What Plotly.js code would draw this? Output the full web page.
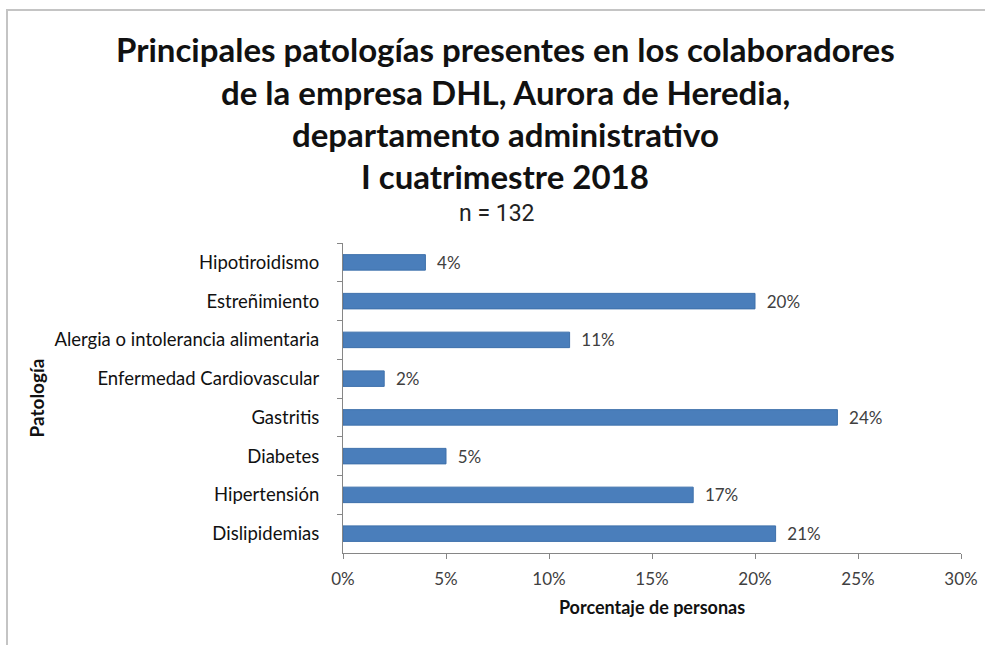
<!DOCTYPE html>
<html>
<head>
<meta charset="utf-8">
<script src="https://cdn.plot.ly/plotly-3.0.1.min.js"></script>
<style>
  html, body { margin: 0; padding: 0; background: #fff; }
  #wrap { position: relative; width: 985px; height: 645px; }
  #chart { position: absolute; left: 0; top: 0; width: 985px; height: 645px; }
  #frame { position: absolute; left: 6px; top: 9px; width: 979px; height: 636px;
           border-top: 2px solid #c4c4c4; border-left: 2px solid #c4c4c4;
           pointer-events: none; box-sizing: border-box; }
</style>
</head>
<body>
<div id="wrap">
  <div id="chart"></div>
  <div id="frame"></div>
</div>
<script>
const categories = [
  "Hipotiroidismo",
  "Estreñimiento",
  "Alergia o intolerancia alimentaria",
  "Enfermedad Cardiovascular",
  "Gastritis",
  "Diabetes",
  "Hipertensión",
  "Dislipidemias"
];
const values = [4, 20, 11, 2, 24, 5, 17, 21];
const xTickValues = [0, 5, 10, 15, 20, 25, 30];
const titleLines = [
  "Principales patologías presentes en los colaboradores",
  "de la empresa DHL, Aurora de Heredia,",
  "departamento administrativo",
  "I cuatrimestre 2018"
];
const subtitleText = "n = 132";
const xTitle = "Porcentaje de personas";
const yTitle = "Patología";

const FONT = "Lato, 'Open Sans', sans-serif";

// plot area geometry (pixels) used to place annotations in paper coords
const PL = 343, PR = 961, PT = 242.5, PB = 553.5;
const px2x = px => (px - PL) / (PR - PL);
const py2y = py => (PB - py) / (PB - PT);

const trace = {
  type: "bar",
  orientation: "h",
  y: categories,
  x: values,
  text: values.map(v => "\u00a0\u00a0" + v + "%"),
  textposition: "outside",
  constraintext: "none",
  cliponaxis: false,
  textfont: { family: FONT, size: 17, color: "#404040" },
  marker: { color: "#4a7ebb", line: { color: "#3e70ab", width: 1 } },
  width: 0.4,
  hoverinfo: "none"
};

const titleY = [48, 91, 133, 175];
const annotations = titleLines.map((t, i) => ({
  text: "<b>" + t + "</b>",
  xref: "paper", yref: "paper",
  x: px2x(505), xanchor: "center",
  y: py2y(titleY[i]), yanchor: "middle",
  showarrow: false,
  font: { family: FONT, size: 33, color: "#111" }
}));
annotations.push({
  text: subtitleText,
  xref: "paper", yref: "paper",
  x: px2x(497), xanchor: "center",
  y: py2y(213), yanchor: "middle",
  showarrow: false,
  font: { family: "Roboto, sans-serif", size: 23, color: "#222" }
});

const layout = {
  width: 985,
  height: 645,
  paper_bgcolor: "rgba(0,0,0,0)",
  plot_bgcolor: "rgba(0,0,0,0)",
  margin: { l: PL, r: 985 - PR, t: PT, b: 645 - PB },
  showlegend: false,
  font: { family: FONT, color: "#222" },
  annotations: annotations,
  xaxis: {
    range: [0, 30],
    tickvals: xTickValues,
    ticktext: xTickValues.map(v => v + "%"),
    showgrid: false,
    zeroline: false,
    showline: true,
    linecolor: "#868686",
    linewidth: 1,
    ticks: "outside",
    ticklen: 5,
    tickcolor: "#868686",
    ticklabelstandoff: 6,
    tickfont: { family: FONT, size: 17, color: "#404040" },
    fixedrange: true,
    title: {
      text: xTitle,
      standoff: 12,
      font: { family: FONT, size: 18, color: "#111", weight: "bold" }
    }
  },
  yaxis: {
    type: "category",
    autorange: "reversed",
    showgrid: false,
    zeroline: false,
    showline: true,
    linecolor: "#868686",
    linewidth: 1,
    ticks: "outside",
    ticklen: 5,
    tickcolor: "#868686",
    tickson: "boundaries",
    ticklabelstandoff: 19,
    tickfont: { family: FONT, size: 18.5, color: "#111" },
    fixedrange: true,
    title: {
      text: yTitle,
      standoff: 4,
      font: { family: FONT, size: 19, color: "#111", weight: "bold" }
    }
  }
};

Plotly.newPlot("chart", [trace], layout, { displayModeBar: false, staticPlot: true });
</script>
</body>
</html>
